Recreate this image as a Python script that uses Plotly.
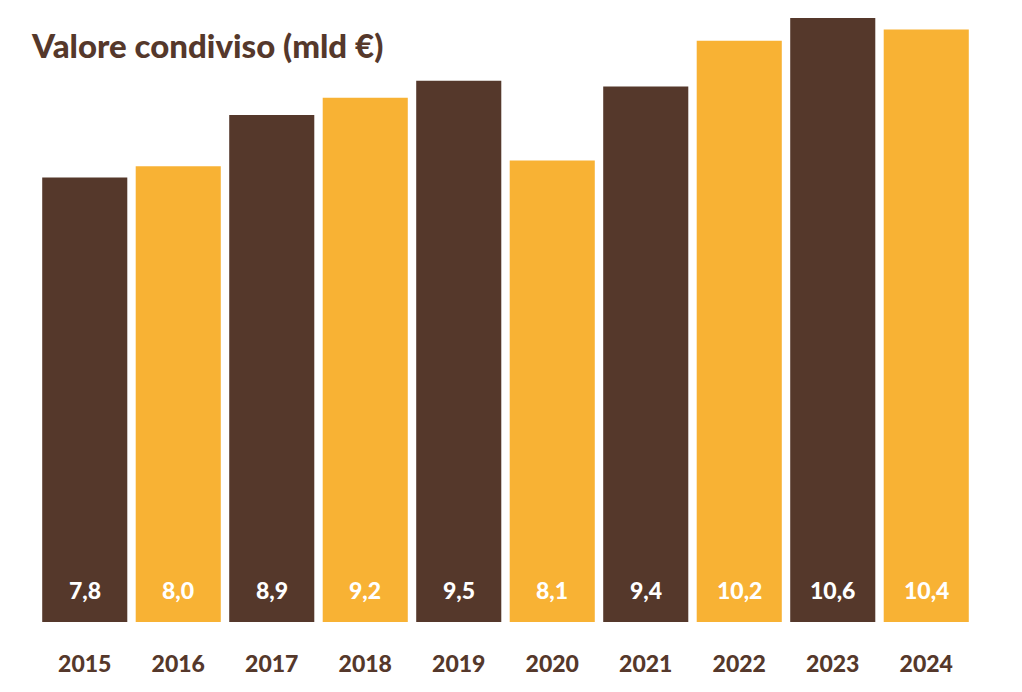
import plotly.graph_objects as go

# --- Dati ---
anni = ["2015", "2016", "2017", "2018", "2019", "2020", "2021", "2022", "2023", "2024"]
valori = [7.8, 8.0, 8.9, 9.2, 9.5, 8.1, 9.4, 10.2, 10.6, 10.4]

MARRONE = "#55382B"
GIALLO = "#F8B234"
FONT = "Lato"

colori = [MARRONE if i % 2 == 0 else GIALLO for i in range(len(anni))]

fig = go.Figure()
fig.add_trace(go.Bar(
    x=anni, y=valori,
    marker=dict(color=colori, line=dict(width=0)),
    hoverinfo="skip",
))

# etichette bianche in fondo alle barre (x = indice della categoria)
for i, v in enumerate(valori):
    fig.add_annotation(
        x=i, y=0, yanchor="bottom", yshift=16,
        text=f"{v:.1f}".replace(".", ","), showarrow=False,
        font=dict(family=FONT, size=23, color="white", weight=900),
    )

fig.update_layout(
    width=1022, height=692,
    margin=dict(l=30, r=57, t=2, b=78),
    paper_bgcolor="white", plot_bgcolor="white",
    bargap=0.09,
    showlegend=False,
    title=dict(
        text="Valore condiviso (mld €)",
        x=24 / 1022, xanchor="left", xref="container",
        y=1 - 38 / 692, yanchor="middle", yref="container",
        font=dict(family=FONT, size=33, color=MARRONE, weight=900),
    ),
    xaxis=dict(
        type="category", range=[-0.5, len(anni) - 0.5],
        showgrid=False, showline=False, zeroline=False, ticks="",
        ticklabelstandoff=26,
        tickfont=dict(family=FONT, size=23, color=MARRONE, weight=900),
    ),
    yaxis=dict(
        range=[0, 612 / 56.98], visible=False, showgrid=False, zeroline=False,
    ),
)

fig.write_html("out.html")
